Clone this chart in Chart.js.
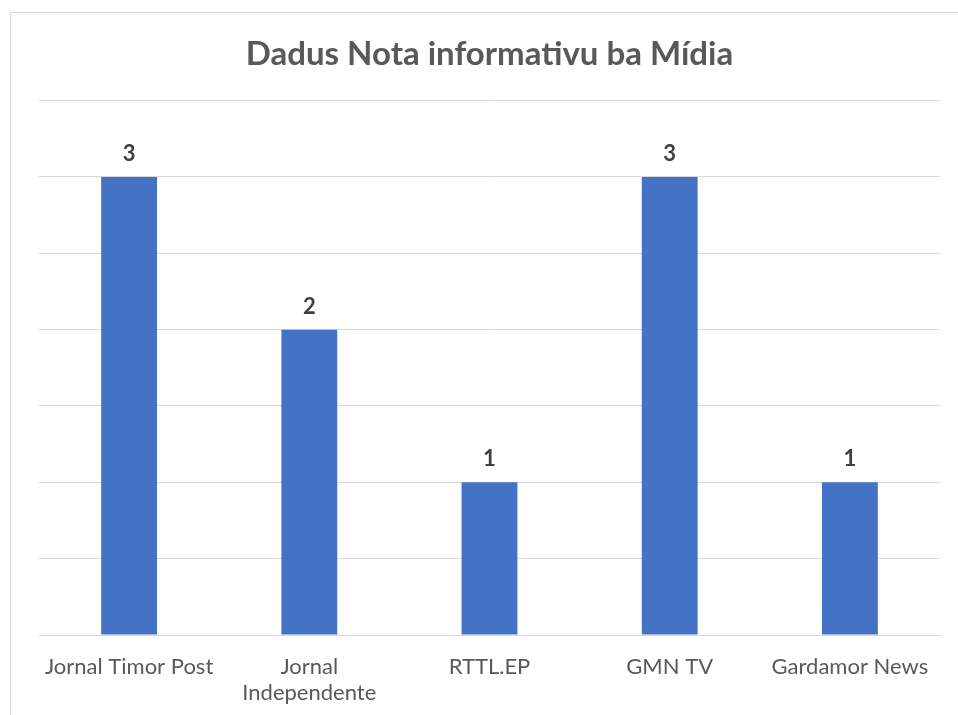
<!DOCTYPE html>
<html>
<head>
<meta charset="utf-8">
<script src="https://cdn.jsdelivr.net/npm/chart.js@4/dist/chart.umd.min.js"></script>
<style>
  html, body { margin: 0; padding: 0; background: #fff; overflow: hidden; }
  #frame { position: absolute; left: 10px; top: 12px; width: 1000px; height: 800px;
           border-left: 1px solid #d9d9d9; border-top: 1px solid #d9d9d9; }
  #wrap { position: absolute; left: 0; top: 0; width: 958px; height: 715px; }
</style>
</head>
<body>
<div id="frame"></div>
<div id="wrap"><canvas id="myChart" width="958" height="715"></canvas></div>
<script>
// media outlets and count of news notes
const categories = ["Jornal Timor Post", ["Jornal", "Independente"], "RTTL.EP", "GMN TV", "Gardamor News"];
const values = [3, 2, 1, 3, 1];
const chartTitle = "Dadus Nota informativu ba Mídia";

const FONT = "Lato, 'Open Sans', sans-serif";

// draw the value above each bar
const barLabels = {
  id: "barLabels",
  afterDatasetsDraw(chart) {
    const ctx = chart.ctx;
    const meta = chart.getDatasetMeta(0);
    ctx.save();
    ctx.font = "bold 22px " + FONT;
    ctx.fillStyle = "#404040";
    ctx.textAlign = "center";
    ctx.textBaseline = "middle";
    meta.data.forEach((bar, i) => {
      ctx.fillText(String(values[i]), bar.x, bar.y - 23);
    });
    ctx.restore();
  }
};

const myChartRef = document.getElementById("myChart").getContext("2d");
new Chart(myChartRef, {
  type: "bar",
  data: {
    labels: categories,
    datasets: [{
      label: "Nota",
      data: values,
      backgroundColor: "#4472C4",
      categoryPercentage: 1,
      barPercentage: 0.31
    }]
  },
  options: {
    responsive: false,
    animation: false,
    layout: { padding: { left: 39, right: 18, top: 0, bottom: 0 } },
    plugins: {
      legend: { display: false },
      tooltip: { enabled: false },
      title: {
        display: true,
        text: chartTitle,
        color: "#595959",
        font: { family: FONT, size: 33, weight: "bold" },
        padding: { top: 35, bottom: 26 }
      }
    },
    scales: {
      x: {
        grid: { display: false, drawTicks: false },
        border: { color: "#d9d9d9" },
        ticks: {
          color: "#595959",
          font: { family: FONT, size: 22, lineHeight: 1.18 },
          padding: 19,
          maxRotation: 0,
          autoSkip: false
        },
        afterFit(scale) { scale.height = 80; }
      },
      y: {
        min: 0,
        max: 3.5,
        ticks: { display: false, stepSize: 0.5 },
        border: { display: false },
        grid: { color: "#d9d9d9", drawTicks: false }
      }
    }
  },
  plugins: [barLabels]
});
</script>
</body>
</html>
